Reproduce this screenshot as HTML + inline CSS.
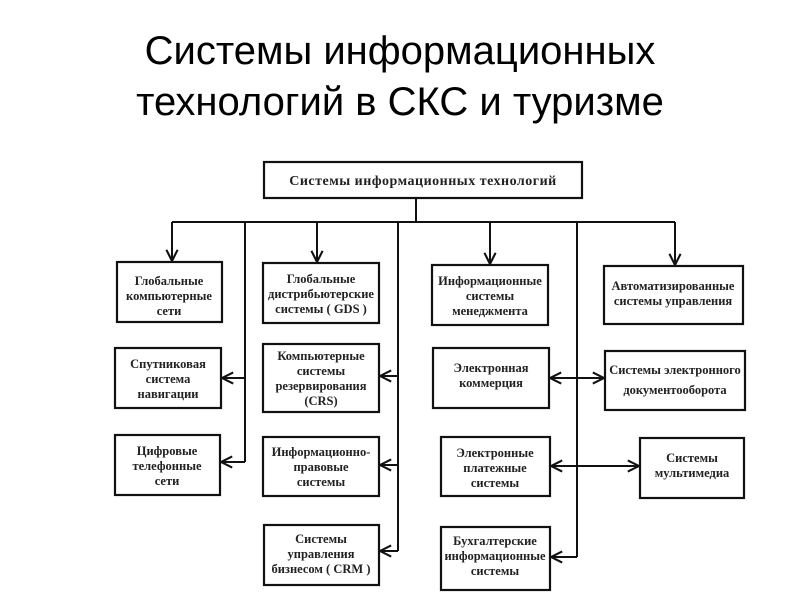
<!DOCTYPE html>
<html><head><meta charset="utf-8"><style>
body{margin:0;background:#fff}
svg text{font-family:"Liberation Serif","DejaVu Serif",serif;font-size:12.5px;font-weight:bold;fill:#222;text-anchor:middle}
.t{font-family:"Liberation Sans","DejaVu Sans",sans-serif;font-size:40px;font-weight:normal;fill:#000}
</style></head><body>
<svg width="800" height="600" viewBox="0 0 800 600" xmlns="http://www.w3.org/2000/svg">
<defs><marker id="a" viewBox="0 0 10 10" refX="9" refY="5" markerWidth="7" markerHeight="7" orient="auto-start-reverse"><path d="M1 1 L9 5 L1 9" fill="none" stroke="#111" stroke-width="1.5"/></marker></defs>
<text class="t" x="400" y="64">Системы информационных</text>
<text class="t" x="400" y="115">технологий в СКС и туризме</text>
<g fill="none" stroke="#111" stroke-width="2.2">
<rect x="264" y="162" width="318" height="36"/>
<rect x="117" y="262" width="105" height="60"/>
<rect x="263" y="263" width="116" height="60"/>
<rect x="432" y="265" width="116" height="60"/>
<rect x="604" y="266" width="139" height="58"/>
<rect x="115" y="348" width="106" height="60"/>
<rect x="263" y="344" width="116" height="68"/>
<rect x="433" y="348" width="116" height="60"/>
<rect x="605" y="351" width="140" height="59"/>
<rect x="115" y="435" width="105" height="60"/>
<rect x="263" y="437" width="116" height="59"/>
<rect x="441" y="437" width="109" height="59"/>
<rect x="640" y="438" width="104" height="60"/>
<rect x="264" y="525" width="115" height="60"/>
<rect x="441" y="527" width="109" height="63"/>
</g>
<g fill="none" stroke="#111" stroke-width="2">
<path d="M416 198V222M172 222H675M245 222V462M398 222V551M577 222V557"/>
</g>
<g fill="none" stroke="#111" stroke-width="2" marker-end="url(#a)">
<line x1="172" y1="222" x2="172" y2="261"/>
<line x1="317" y1="222" x2="317" y2="262"/>
<line x1="490" y1="222" x2="490" y2="264"/>
<line x1="675" y1="222" x2="675" y2="265"/>
<line x1="245" y1="378" x2="222" y2="378"/>
<line x1="245" y1="462" x2="221" y2="462"/>
<line x1="398" y1="376" x2="380" y2="376"/>
<line x1="398" y1="465" x2="380" y2="465"/>
<line x1="398" y1="551" x2="380" y2="551"/>
<line x1="577" y1="557" x2="551" y2="557"/>
<line x1="550" y1="378" x2="604" y2="378" marker-start="url(#a)"/>
<line x1="551" y1="466" x2="639" y2="466" marker-start="url(#a)"/>
</g>
<text x="423" y="185" style="font-size:14px;letter-spacing:0.5px">Системы  информационных  технологий</text>
<text x="169" y="285">Глобальные</text><text x="169" y="300">компьютерные</text><text x="169" y="315">сети</text>
<text x="321" y="283">Глобальные</text><text x="321" y="298">дистрибьютерские</text><text x="321" y="313">системы  ( GDS )</text>
<text x="490" y="285">Информационные</text><text x="490" y="300">системы</text><text x="490" y="315">менеджмента</text>
<text x="673" y="290">Автоматизированные</text><text x="673" y="305">системы управления</text>
<text x="168" y="368">Спутниковая</text><text x="168" y="383">система</text><text x="168" y="398">навигации</text>
<text x="321" y="360">Компьютерные</text><text x="321" y="375">системы</text><text x="321" y="390">резервирования</text><text x="321" y="405">(CRS)</text>
<text x="491" y="372">Электронная</text><text x="491" y="387">коммерция</text>
<text x="675" y="374">Системы электронного</text><text x="675" y="394">документооборота</text>
<text x="167" y="455">Цифровые</text><text x="167" y="470">телефонные</text><text x="167" y="485">сети</text>
<text x="321" y="456">Информационно-</text><text x="321" y="471">правовые</text><text x="321" y="486">системы</text>
<text x="495" y="457">Электронные</text><text x="495" y="472">платежные</text><text x="495" y="487">системы</text>
<text x="692" y="462">Системы</text><text x="692" y="477">мультимедиа</text>
<text x="321" y="543">Системы</text><text x="321" y="558">управления</text><text x="321" y="573">бизнесом ( CRM )</text>
<text x="495" y="545">Бухгалтерские</text><text x="495" y="560">информационные</text><text x="495" y="575">системы</text>
</svg>
</body></html>
